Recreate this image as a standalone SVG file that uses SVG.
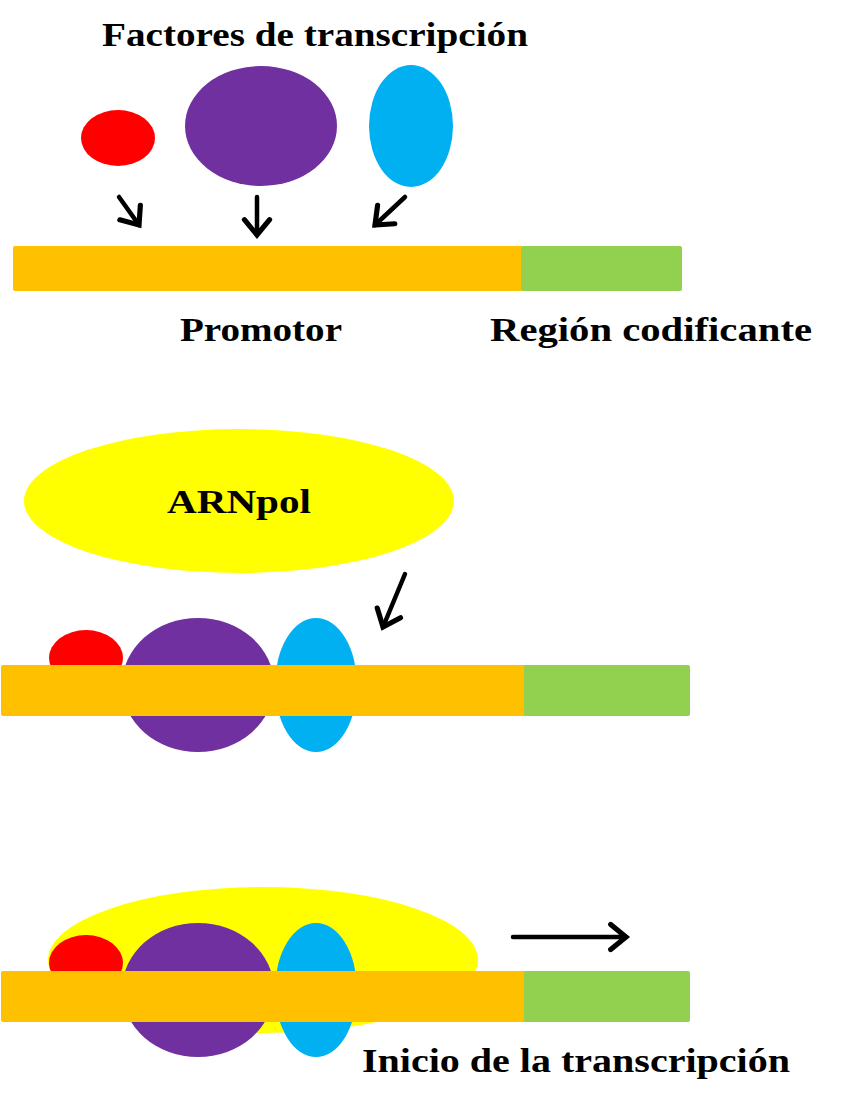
<svg xmlns="http://www.w3.org/2000/svg" width="849" height="1093" viewBox="0 0 849 1093">
<style>
.t{font-family:"Liberation Serif","Times New Roman",serif;font-weight:bold;font-size:33px;fill:#000}
.red{fill:#FF0000}.pur{fill:#7030A0}.blu{fill:#00B0F0}.yel{fill:#FFFF00}
.org{fill:#FFC000}.grn{fill:#92D050}
.arr{stroke:#000;stroke-width:4.5;fill:none;stroke-linecap:round;marker-end:url(#ah)}
</style>
<defs>
<marker id="ah" markerWidth="8" markerHeight="8" refX="5" refY="4" orient="auto" markerUnits="strokeWidth" viewBox="0 0 8 8">
<path d="M1.6,1.2 L5,4 L1.6,6.8" fill="none" stroke="#000" stroke-width="1.15" stroke-linecap="round" stroke-linejoin="miter"/>
</marker>
</defs>
<rect width="849" height="1093" fill="#fff"/>

<g id="panel1">
<g id="title"><text class="t" x="102" y="46" textLength="426" lengthAdjust="spacingAndGlyphs">Factores de transcripción</text></g>
<g id="tf-red-1"><ellipse class="red" cx="118" cy="138" rx="37" ry="28"/></g>
<g id="tf-purple-1"><ellipse class="pur" cx="261" cy="126" rx="76" ry="60"/></g>
<g id="tf-blue-1"><ellipse class="blu" cx="411" cy="126" rx="42" ry="61"/></g>
<g id="dna-1">
<rect class="org" x="13" y="246" width="510" height="45" rx="2"/>
<rect class="grn" x="521" y="246" width="161" height="45" rx="2"/>
<rect class="org" x="515" y="246" width="6" height="45"/>
</g>
<g id="lbl-promotor"><text class="t" x="180" y="341" textLength="162" lengthAdjust="spacingAndGlyphs">Promotor</text></g>
<g id="lbl-region"><text class="t" x="490" y="341" textLength="322" lengthAdjust="spacingAndGlyphs">Región codificante</text></g>
</g>

<g id="panel2">
<g id="arnpol-2"><ellipse class="yel" cx="239" cy="501" rx="215" ry="72"/>
<text class="t" x="167" y="513" textLength="144" lengthAdjust="spacingAndGlyphs">ARNpol</text></g>
<g id="tf-red-2"><ellipse class="red" cx="86" cy="658" rx="37" ry="28"/></g>
<g id="tf-purple-2"><ellipse class="pur" cx="198" cy="685" rx="76" ry="67"/></g>
<g id="tf-blue-2"><ellipse class="blu" cx="316" cy="685" rx="41" ry="67"/></g>
<g id="dna-2">
<rect class="org" x="1" y="665" width="529" height="51" rx="2"/>
<rect class="grn" x="524" y="665" width="166" height="51" rx="2"/>
<rect class="org" x="518" y="665" width="6" height="51"/>
</g>
</g>

<g id="panel3">
<g id="arnpol-3"><ellipse class="yel" cx="263" cy="960" rx="215" ry="73"/></g>
<g id="tf-red-3"><ellipse class="red" cx="86" cy="963" rx="37" ry="28"/></g>
<g id="tf-purple-3"><ellipse class="pur" cx="198" cy="990" rx="76" ry="67"/></g>
<g id="tf-blue-3"><ellipse class="blu" cx="316" cy="990" rx="41" ry="67"/></g>
<g id="dna-3">
<rect class="org" x="1" y="971" width="529" height="51" rx="2"/>
<rect class="grn" x="524" y="971" width="166" height="51" rx="2"/>
<rect class="org" x="518" y="971" width="6" height="51"/>
</g>
<g id="lbl-inicio"><text class="t" x="362" y="1072" textLength="428" lengthAdjust="spacingAndGlyphs">Inicio de la transcripción</text></g>
</g>

<g id="connectors">
<line class="arr" x1="119" y1="197" x2="139" y2="225"/>
<line class="arr" x1="257" y1="197" x2="257" y2="235"/>
<line class="arr" x1="405" y1="197" x2="375" y2="225"/>
<line class="arr" x1="405" y1="574" x2="383" y2="627"/>
<line class="arr" x1="513" y1="937" x2="626" y2="937"/>
</g>
</svg>
